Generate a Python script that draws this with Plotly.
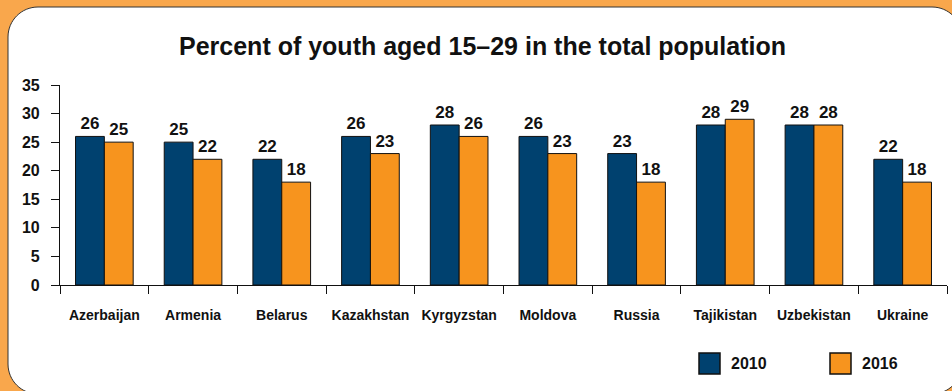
import plotly.graph_objects as go

# Share of youth (15-29) in total population, %
countries = ["Azerbaijan", "Armenia", "Belarus", "Kazakhstan", "Kyrgyzstan",
             "Moldova", "Russia", "Tajikistan", "Uzbekistan", "Ukraine"]
share_2010 = [26, 25, 22, 26, 28, 26, 23, 28, 28, 22]
share_2016 = [25, 22, 18, 23, 26, 23, 18, 29, 28, 18]
series_names = ["2010", "2016"]
y_ticks = [0, 5, 10, 15, 20, 25, 30, 35]

NAVY = "#00416f"
ORANGE = "#f7941e"
FRAME = "#f9a74c"
FONT = "Liberation Sans, Arial, Helvetica, sans-serif"
INK = "#111111"

W, H = 952, 391
L, R, T, B = 60, 5, 85, 106
PW, PH = W - L - R, H - T - B


def px_x(px):
    return (px - L) / PW


def px_y(py):
    return (H - B - py) / PH


def rounded_rect(x0, y0, x1, y1, r):
    k = 0.5523 * r
    pts = [
        f"M {px_x(x0 + r)},{px_y(y0)}",
        f"L {px_x(x1 - r)},{px_y(y0)}",
        f"C {px_x(x1 - r + k)},{px_y(y0)} {px_x(x1)},{px_y(y0 + r - k)} {px_x(x1)},{px_y(y0 + r)}",
        f"L {px_x(x1)},{px_y(y1 - r)}",
        f"C {px_x(x1)},{px_y(y1 - r + k)} {px_x(x1 - r + k)},{px_y(y1)} {px_x(x1 - r)},{px_y(y1)}",
        f"L {px_x(x0 + r)},{px_y(y1)}",
        f"C {px_x(x0 + r - k)},{px_y(y1)} {px_x(x0)},{px_y(y1 - r + k)} {px_x(x0)},{px_y(y1 - r)}",
        f"L {px_x(x0)},{px_y(y0 + r)}",
        f"C {px_x(x0)},{px_y(y0 + r - k)} {px_x(x0 + r - k)},{px_y(y0)} {px_x(x0 + r)},{px_y(y0)}",
        "Z",
    ]
    return " ".join(pts)


fig = go.Figure()
for name, vals, col in [(series_names[0], share_2010, NAVY),
                        (series_names[1], share_2016, ORANGE)]:
    fig.add_trace(go.Bar(
        x=countries, y=vals, name=name,
        marker=dict(color=col, line=dict(color=INK, width=1)),
        texttemplate="%{y}", textposition="outside",
        textfont=dict(family=FONT, size=17, color=INK, weight="bold"),
        cliponaxis=False, showlegend=False,
    ))

shapes = [dict(type="path", xref="paper", yref="paper", layer="below",
               path=rounded_rect(8, 7, 962, 394, 30),
               fillcolor="white", line=dict(color="#333333", width=1))]

annotations = [dict(text="Percent of youth aged 15\u201329 in the total population",
                    xref="paper", yref="paper", x=px_x(482), y=px_y(46),
                    xanchor="center", yanchor="middle", showarrow=False,
                    font=dict(family=FONT, size=25, color=INK, weight="bold"))]

# legend keys drawn as boxes with labels
for name, col, bx in [(series_names[0], NAVY, 699), (series_names[1], ORANGE, 830)]:
    shapes.append(dict(type="rect", xref="paper", yref="paper",
                       x0=px_x(bx), x1=px_x(bx + 21), y0=px_y(353), y1=px_y(374),
                       fillcolor=col, line=dict(color=INK, width=1.5)))
    annotations.append(dict(text=name, xref="paper", yref="paper",
                            x=px_x(bx + 30), y=px_y(363.5), xanchor="left",
                            yanchor="middle", showarrow=False,
                            font=dict(family=FONT, size=16, color=INK, weight="bold")))

fig.update_layout(
    width=W, height=H,
    margin=dict(l=L, r=R, t=T, b=B),
    paper_bgcolor=FRAME, plot_bgcolor="rgba(0,0,0,0)",
    barmode="group", bargap=0.35, bargroupgap=0,
    shapes=shapes, annotations=annotations,
    xaxis=dict(showline=True, linecolor=INK, linewidth=1.2,
               ticks="outside", tickson="boundaries", ticklen=8,
               tickcolor=INK, tickwidth=1.2, ticklabelstandoff=17, tickangle=0,
               tickfont=dict(family=FONT, size=14, color=INK, weight="bold"),
               showgrid=False, zeroline=False),
    yaxis=dict(range=[0, 35], tickvals=y_ticks, showline=True,
               linecolor=INK, linewidth=1.2, ticks="outside", ticklen=8,
               tickcolor=INK, tickwidth=1.2, ticklabelstandoff=8,
               tickfont=dict(family=FONT, size=16, color=INK, weight="bold"),
               showgrid=False, zeroline=False),
)

fig.write_html("out.html")
